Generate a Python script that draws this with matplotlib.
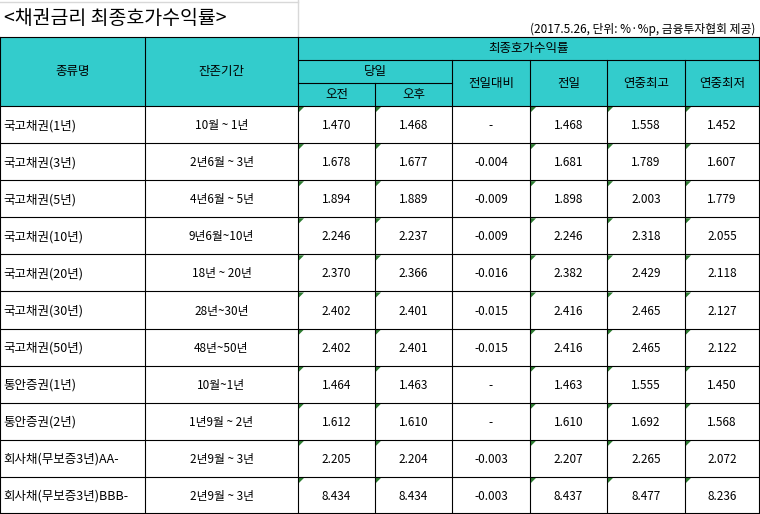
import matplotlib
matplotlib.use("Agg")
import matplotlib.pyplot as plt
from matplotlib.patches import Rectangle, Polygon

plt.rcParams["font.family"] = "Noto Sans CJK KR"

TITLE = "<채권금리 최종호가수익률>"
NOTE = "(2017.5.26, 단위: %·%p, 금융투자협회 제공)"

names = ["국고채권(1년)", "국고채권(3년)", "국고채권(5년)", "국고채권(10년)", "국고채권(20년)",
         "국고채권(30년)", "국고채권(50년)", "통안증권(1년)", "통안증권(2년)",
         "회사채(무보증3년)AA-", "회사채(무보증3년)BBB-"]
terms = ["10월 ~ 1년", "2년6월 ~ 3년", "4년6월 ~ 5년", "9년6월~10년", "18년 ~ 20년",
         "28년~30년", "48년~50년", "10월~1년", "1년9월 ~ 2년", "2년9월 ~ 3년", "2년9월 ~ 3년"]
am = ["1.470", "1.678", "1.894", "2.246", "2.370", "2.402", "2.402", "1.464", "1.612", "2.205", "8.434"]
pm = ["1.468", "1.677", "1.889", "2.237", "2.366", "2.401", "2.401", "1.463", "1.610", "2.204", "8.434"]
diff = ["-", "-0.004", "-0.009", "-0.009", "-0.016", "-0.015", "-0.015", "-", "-", "-0.003", "-0.003"]
prev = ["1.468", "1.681", "1.898", "2.246", "2.382", "2.416", "2.416", "1.463", "1.610", "2.207", "8.437"]
high = ["1.558", "1.789", "2.003", "2.318", "2.429", "2.465", "2.465", "1.555", "1.692", "2.265", "8.477"]
low = ["1.452", "1.607", "1.779", "2.055", "2.118", "2.127", "2.122", "1.450", "1.568", "2.072", "8.236"]

W, H = 760, 514
xs = [0, 145, 298, 375, 452, 530, 607, 685, 759]
h0, h1, h2, h3 = 37, 60, 83, 106
rh = (H - h3) / len(names)
teal = "#33CCCC"

fig = plt.figure(figsize=(W / 100, H / 100), dpi=100)
ax = fig.add_axes([0, 0, 1, 1])
ax.set_xlim(0, W)
ax.set_ylim(H, 0)
ax.axis("off")

ax.add_patch(Rectangle((0, h0), xs[-1], h3 - h0, facecolor=teal, edgecolor="none"))
ax.plot([298, 298], [0, h0], color="#d8d8d8", lw=1)
ax.plot([0, 298], [2, 2], color="#d8d8d8", lw=1)

ax.text(4, 19, TITLE, fontsize=14, va="center", ha="left")
ax.text(755, 29, NOTE, fontsize=8.5, va="center", ha="right")

lc = "black"
lw = 0.8
# header lines
ax.plot([0, xs[-1]], [h0, h0], color=lc, lw=lw)
ax.plot([xs[2], xs[-1]], [h1, h1], color=lc, lw=lw)
ax.plot([xs[2], xs[4]], [h2, h2], color=lc, lw=lw)
for x in [0, xs[1], xs[2], xs[-1]]:
    ax.plot([x, x], [h0, H], color=lc, lw=lw)
for x in xs[4:8]:
    ax.plot([x, x], [h1, H], color=lc, lw=lw)
ax.plot([xs[3], xs[3]], [h2, H], color=lc, lw=lw)

fs = 9
ax.text((xs[0] + xs[1]) / 2, (h0 + h3) / 2, "종류명", ha="center", va="center", fontsize=fs)
ax.text((xs[1] + xs[2]) / 2, (h0 + h3) / 2, "잔존기간", ha="center", va="center", fontsize=fs)
ax.text((xs[2] + xs[-1]) / 2, (h0 + h1) / 2, "최종호가수익률", ha="center", va="center", fontsize=fs)
ax.text((xs[2] + xs[4]) / 2, (h1 + h2) / 2, "당일", ha="center", va="center", fontsize=fs)
ax.text((xs[2] + xs[3]) / 2, (h2 + h3) / 2, "오전", ha="center", va="center", fontsize=fs)
ax.text((xs[3] + xs[4]) / 2, (h2 + h3) / 2, "오후", ha="center", va="center", fontsize=fs)
for i, lab in enumerate(["전일대비", "전일", "연중최고", "연중최저"]):
    ax.text((xs[4 + i] + xs[5 + i]) / 2, (h1 + h3) / 2, lab, ha="center", va="center", fontsize=fs)

for r in range(len(names)):
    top = h3 + r * rh
    ax.plot([0, xs[-1]], [top, top], color=lc, lw=lw)
    cy = top + rh / 2 + 1
    ax.text(3, cy, names[r], ha="left", va="center", fontsize=fs)
    ax.text((xs[1] + xs[2]) / 2, cy, terms[r], ha="center", va="center", fontsize=8.5)
    vals = [am[r], pm[r], diff[r], prev[r], high[r], low[r]]
    for c, v in enumerate(vals):
        cx = (xs[2 + c] + xs[3 + c]) / 2
        ax.text(cx, cy, v, ha="center", va="center", fontsize=8.5)
        if c != 2:
            x0 = xs[2 + c] + 1
            ax.add_patch(Polygon([(x0, top + 1), (x0 + 5, top + 1), (x0, top + 6)],
                                 facecolor="#2e7d32", edgecolor="none"))
ax.plot([0, xs[-1]], [H - 1, H - 1], color=lc, lw=lw)

fig.savefig("out.png", dpi=100)
